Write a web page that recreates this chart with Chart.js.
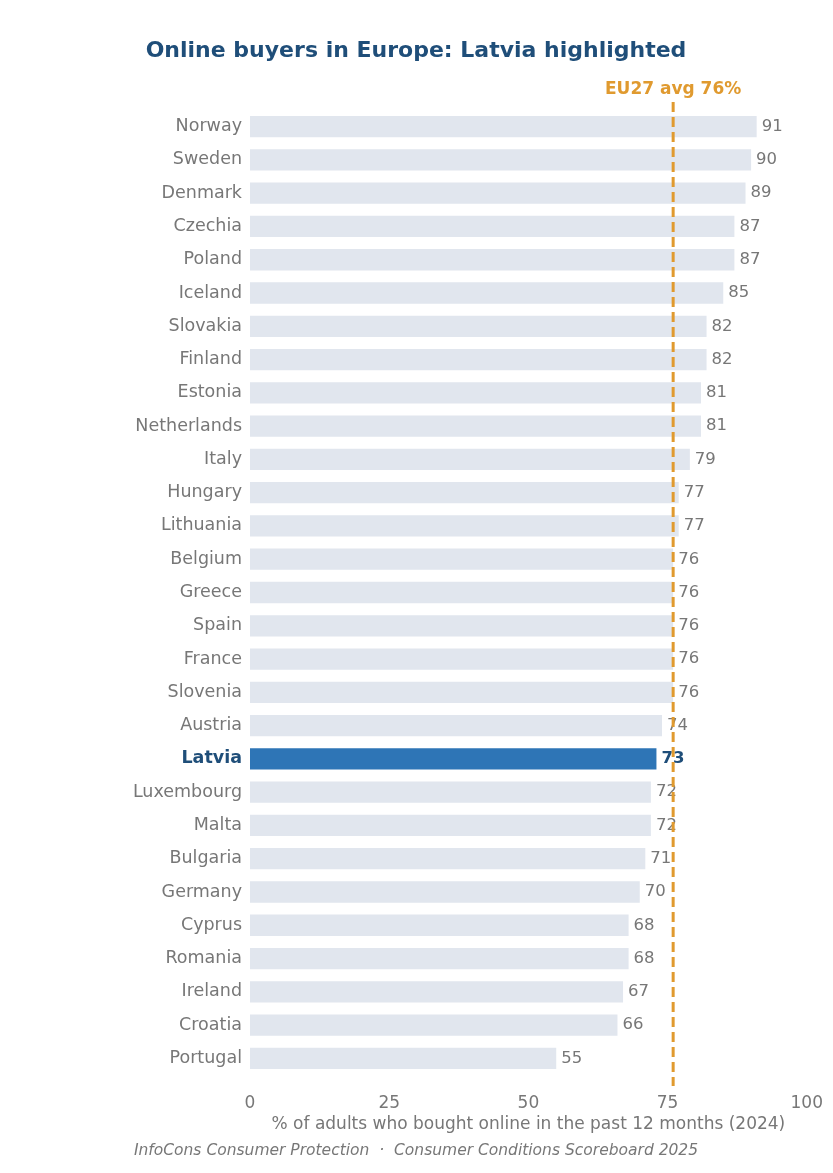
<!DOCTYPE html>
<html>
<head>
<meta charset="utf-8">
<script src="https://cdn.jsdelivr.net/npm/chart.js@4"></script>
<style>
  html, body { margin: 0; padding: 0; background: #fff; }
  #wrap { width: 833px; height: 1173px; }
</style>
</head>
<body>
<div id="wrap"><canvas id="chart"></canvas></div>
<script>
const countries = ["Norway", "Sweden", "Denmark", "Czechia", "Poland", "Iceland", "Slovakia", "Finland",
  "Estonia", "Netherlands", "Italy", "Hungary", "Lithuania", "Belgium", "Greece", "Spain", "France",
  "Slovenia", "Austria", "Latvia", "Luxembourg", "Malta", "Bulgaria", "Germany", "Cyprus", "Romania",
  "Ireland", "Croatia", "Portugal"];
const buyers = [91, 90, 89, 87, 87, 85, 82, 82, 81, 81, 79, 77, 77, 76, 76, 76, 76, 76, 74, 73, 72, 72,
  71, 70, 68, 68, 67, 66, 55];
const highlight = "Latvia";
const euAvg = 76;
const xTicks = [0, 25, 50, 75, 100];

const FONT = "'DejaVu Sans', sans-serif";
const GREY = "#777777";
const NAVY = "#1f4e79";
const ORANGE = "#e09a2f";

// valeurs au bout des barres + ligne moyenne UE
const extras = {
  id: "extras",
  afterDatasetsDraw(chart) {
    const c = chart.ctx;
    const meta = chart.getDatasetMeta(0);
    c.save();
    c.textBaseline = "middle";
    c.textAlign = "left";
    meta.data.forEach((bar, i) => {
      const hl = countries[i] === highlight;
      c.font = (hl ? "bold " : "") + "16.5px " + FONT;
      c.fillStyle = hl ? NAVY : GREY;
      c.fillText(buyers[i], bar.x + 5, bar.y);
    });
    const x = chart.scales.x.getPixelForValue(euAvg);
    const a = chart.chartArea;
    c.strokeStyle = ORANGE;
    c.lineWidth = 3;
    c.setLineDash([10, 5]);
    c.beginPath();
    c.moveTo(x, a.top - 8);
    c.lineTo(x, a.bottom + 11);
    c.stroke();
    c.setLineDash([]);
    c.font = "bold 17px " + FONT;
    c.fillStyle = ORANGE;
    c.textAlign = "center";
    c.fillText("EU27 avg " + euAvg + "%", x, 90);
    c.restore();
  },
  afterDraw(chart) {
    const c = chart.ctx;
    c.save();
    c.textAlign = "center";
    c.textBaseline = "middle";
    c.font = "bold 22px " + FONT;
    c.fillStyle = NAVY;
    c.fillText("Online buyers in Europe: Latvia highlighted", 416, 51);
    c.font = "italic 15.5px " + FONT;
    c.fillStyle = GREY;
    c.fillText("InfoCons Consumer Protection  \u00b7  Consumer Conditions Scoreboard 2025", 416, 1151);
    c.restore();
  }
};

const ctx = document.getElementById("chart");
const chart = new Chart(ctx, {
  type: "bar",
  data: {
    labels: countries,
    datasets: [{
      data: buyers,
      backgroundColor: countries.map(c => c === highlight ? "#2e75b6" : "#e1e6ee"),
      categoryPercentage: 0.64,
      barPercentage: 1.0,
    }],
  },
  options: {
    indexAxis: "y",
    responsive: true,
    maintainAspectRatio: false,
    animation: false,
    layout: { padding: { top: 110, right: 15, left: 0, bottom: 0 } },
    plugins: {
      legend: { display: false },
      tooltip: { enabled: false },
    },
    scales: {
      x: {
        min: 0,
        max: 100,
        afterBuildTicks: s => { s.ticks = xTicks.map(v => ({ value: v })); },
        afterFit: s => { s.height = 98; },
        grid: { display: false },
        border: { display: false },
        ticks: { color: GREY, font: { family: FONT, size: 17 }, padding: 10 },
        title: {
          display: true,
          text: "% of adults who bought online in the past 12 months (2024)",
          color: GREY,
          font: { family: FONT, size: 17 },
          padding: { top: 0, bottom: 38 },
        },
      },
      y: {
        afterFit: s => { s.width = 250; },
        grid: { display: false, drawTicks: false },
        border: { display: false },
        ticks: {
          padding: 8,
          color: c => countries[c.index] === highlight ? NAVY : GREY,
          font: c => ({ family: FONT, size: 17.5, weight: countries[c.index] === highlight ? "bold" : "normal" }),
        },
      },
    },
  },
  plugins: [extras],
});
</script>
</body>
</html>
